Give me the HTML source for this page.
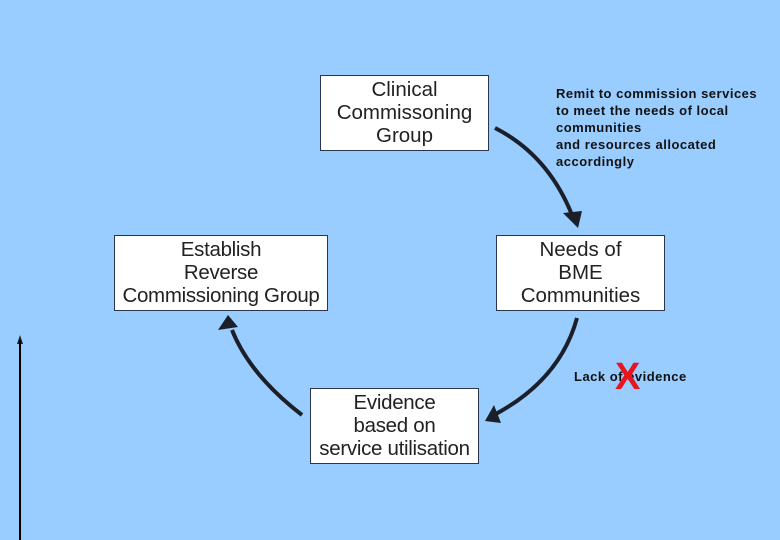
<!DOCTYPE html>
<html><head><style>
body{margin:0;width:780px;height:540px;background:#99ccff;position:relative;overflow:hidden;font-family:"Liberation Sans",sans-serif}
.b{position:absolute;background:#fff;border:1.5px solid #2a3550;box-sizing:border-box;text-align:center;font-size:20.5px;line-height:23px;color:#222;padding-top:2px}
.n{position:absolute;font-weight:bold;font-size:13px;letter-spacing:0.5px;line-height:17px;color:#111}
</style></head><body>
<div class="b" style="left:320px;top:75px;width:169px;height:76px">Clinical<br>Commissoning<br>Group</div>
<div class="b" style="left:496px;top:235px;width:169px;height:76px">Needs of<br>BME<br>Communities</div>
<div class="b" style="left:114px;top:235px;width:214px;height:76px;white-space:nowrap;letter-spacing:-0.3px">Establish<br>Reverse<br>Commissioning Group</div>
<div class="b" style="left:310px;top:388px;width:169px;height:76px;white-space:nowrap;letter-spacing:-0.3px">Evidence<br>based on<br>service utilisation</div>
<div class="n" style="left:556px;top:85px">Remit to commission services<br>to meet the needs of local<br>communities<br>and resources allocated<br>accordingly</div>
<div class="n" style="left:574px;top:368px">Lack of evidence</div>
<div style="position:absolute;left:615px;top:357px;color:#e8141e;font-size:38px;font-weight:bold;line-height:40px">X</div>
<svg width="780" height="540" style="position:absolute;left:0;top:0">
<g stroke="#1a1f2a" stroke-width="4" fill="none">
<path d="M495 128 Q548 155 572 215"/>
<path d="M577 318 Q560 380 494 415"/>
<path d="M302 415 Q250 375 232 330"/>
</g>
<g fill="#1a1f2a">
<polygon points="563,213 582,211 578,228"/>
<polygon points="485,421 494,405 501,423"/>
<polygon points="228,315 218,330 238,327"/>
<polygon points="20,335 17,344 23,344"/>
</g>
<line x1="20" y1="340" x2="20" y2="540" stroke="#000" stroke-width="2"/>
</svg>
</body></html>
